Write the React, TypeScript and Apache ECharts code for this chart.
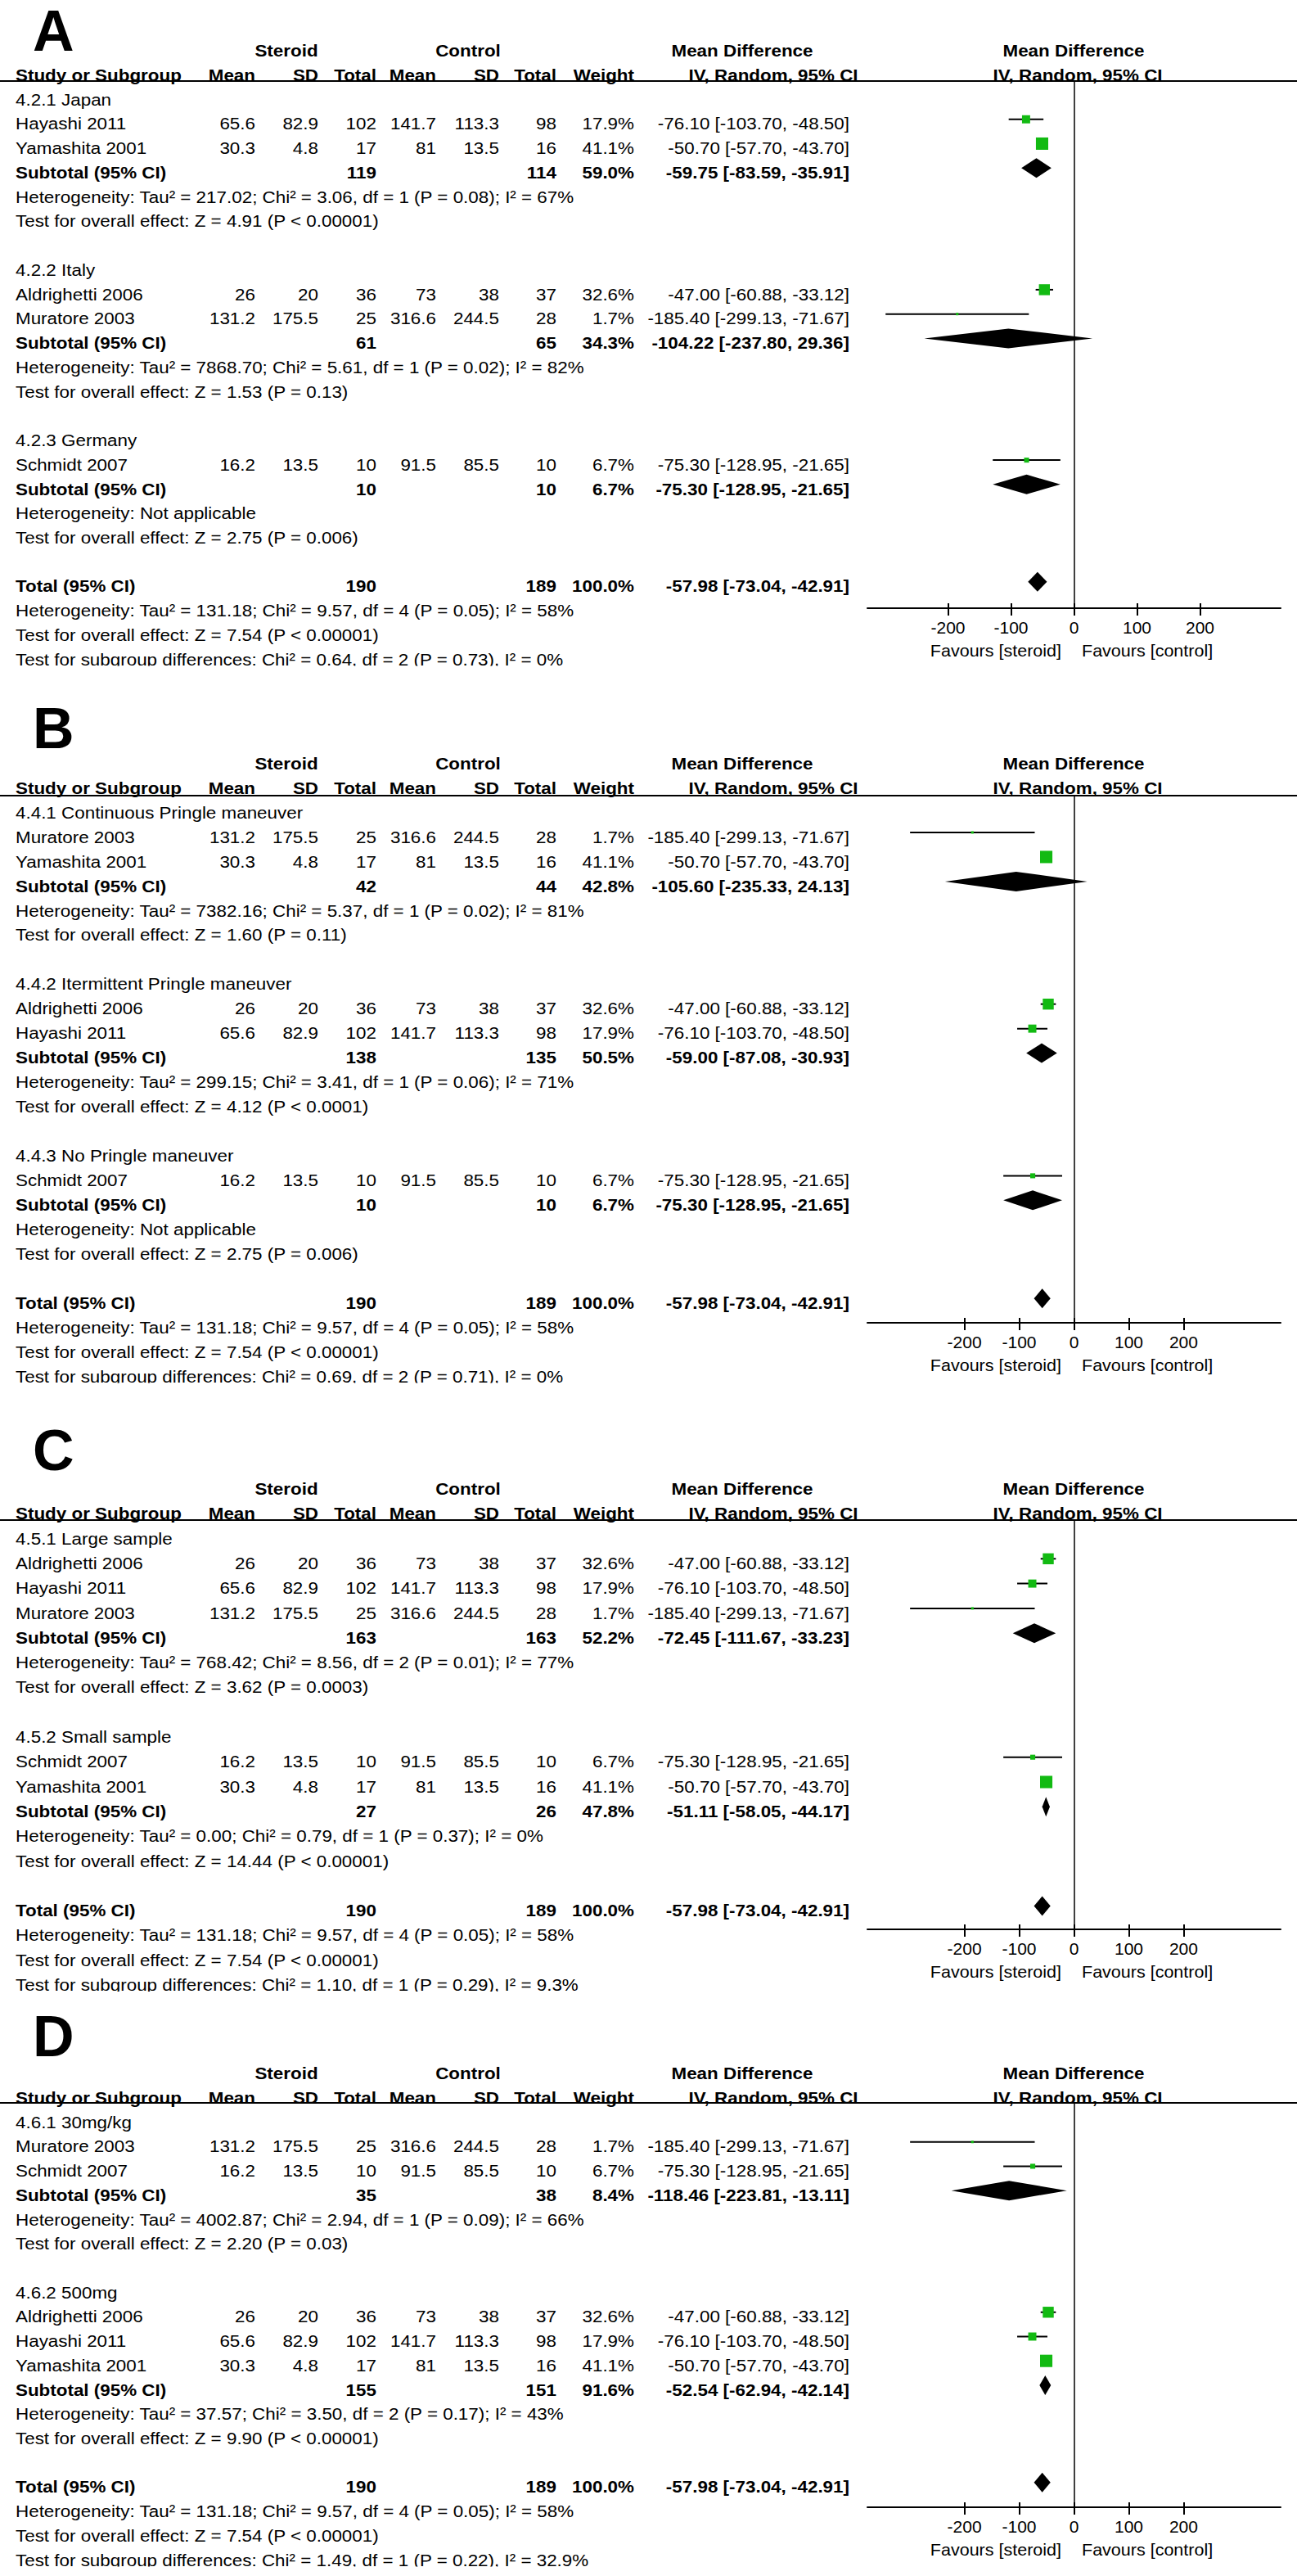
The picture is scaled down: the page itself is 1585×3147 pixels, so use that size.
import React, { useEffect, useRef } from "react";
import * as echarts from "echarts";

const W = 1585;
const H = 3147;
const FONT = '"Liberation Sans", Arial, Helvetica, sans-serif';
const GREEN = "#12ba12";

// ---- study-level data (shared by all four panels) ----
const studyNames = ["Hayashi 2011", "Yamashita 2001", "Aldrighetti 2006", "Muratore 2003", "Schmidt 2007"];
const steroidMean = [65.6, 30.3, 26, 131.2, 16.2];
const steroidSD = [82.9, 4.8, 20, 175.5, 13.5];
const steroidTotal = [102, 17, 36, 25, 10];
const controlMean = [141.7, 81, 73, 316.6, 91.5];
const controlSD = [113.3, 13.5, 38, 244.5, 85.5];
const controlTotal = [98, 16, 37, 28, 10];
const studyWeight = [17.9, 41.1, 32.6, 1.7, 6.7];
const studyMD = [-76.1, -50.7, -47.0, -185.4, -75.3];
const studyLow = [-103.7, -57.7, -60.88, -299.13, -128.95];
const studyHigh = [-48.5, -43.7, -33.12, -71.67, -21.65];

// ---- overall ----
const totalSteroid = 190;
const totalControl = 189;
const totalWeight = 100.0;
const totalMD = -57.98;
const totalLow = -73.04;
const totalHigh = -42.91;
const totalHet = "Heterogeneity: Tau² = 131.18; Chi² = 9.57, df = 4 (P = 0.05); I² = 58%";
const totalTest = "Test for overall effect: Z = 7.54 (P < 0.00001)";

// ---- panels / subgroups ----
const panelLetters = ["A", "B", "C", "D"];
const subgroupTitles = [
  ["4.2.1 Japan", "4.2.2 Italy", "4.2.3 Germany"],
  ["4.4.1 Continuous Pringle maneuver", "4.4.2 Itermittent Pringle maneuver", "4.4.3 No Pringle maneuver"],
  ["4.5.1 Large sample", "4.5.2 Small sample"],
  ["4.6.1 30mg/kg", "4.6.2 500mg"],
];
const subgroupStudies = [
  [[0, 1], [2, 3], [4]],
  [[3, 1], [2, 0], [4]],
  [[2, 0, 3], [4, 1]],
  [[3, 4], [2, 0, 1]],
];
const subSteroidTotal = [[119, 61, 10], [42, 138, 10], [163, 27], [35, 155]];
const subControlTotal = [[114, 65, 10], [44, 135, 10], [163, 26], [38, 151]];
const subWeight = [[59.0, 34.3, 6.7], [42.8, 50.5, 6.7], [52.2, 47.8], [8.4, 91.6]];
const subMD = [[-59.75, -104.22, -75.3], [-105.6, -59.0, -75.3], [-72.45, -51.11], [-118.46, -52.54]];
const subLow = [[-83.59, -237.8, -128.95], [-235.33, -87.08, -128.95], [-111.67, -58.05], [-223.81, -62.94]];
const subHigh = [[-35.91, 29.36, -21.65], [24.13, -30.93, -21.65], [-33.23, -44.17], [-13.11, -42.14]];
const subHet = [
  [
    "Heterogeneity: Tau² = 217.02; Chi² = 3.06, df = 1 (P = 0.08); I² = 67%",
    "Heterogeneity: Tau² = 7868.70; Chi² = 5.61, df = 1 (P = 0.02); I² = 82%",
    "Heterogeneity: Not applicable",
  ],
  [
    "Heterogeneity: Tau² = 7382.16; Chi² = 5.37, df = 1 (P = 0.02); I² = 81%",
    "Heterogeneity: Tau² = 299.15; Chi² = 3.41, df = 1 (P = 0.06); I² = 71%",
    "Heterogeneity: Not applicable",
  ],
  [
    "Heterogeneity: Tau² = 768.42; Chi² = 8.56, df = 2 (P = 0.01); I² = 77%",
    "Heterogeneity: Tau² = 0.00; Chi² = 0.79, df = 1 (P = 0.37); I² = 0%",
  ],
  [
    "Heterogeneity: Tau² = 4002.87; Chi² = 2.94, df = 1 (P = 0.09); I² = 66%",
    "Heterogeneity: Tau² = 37.57; Chi² = 3.50, df = 2 (P = 0.17); I² = 43%",
  ],
];
const subTest = [
  [
    "Test for overall effect: Z = 4.91 (P < 0.00001)",
    "Test for overall effect: Z = 1.53 (P = 0.13)",
    "Test for overall effect: Z = 2.75 (P = 0.006)",
  ],
  [
    "Test for overall effect: Z = 1.60 (P = 0.11)",
    "Test for overall effect: Z = 4.12 (P < 0.0001)",
    "Test for overall effect: Z = 2.75 (P = 0.006)",
  ],
  ["Test for overall effect: Z = 3.62 (P = 0.0003)", "Test for overall effect: Z = 14.44 (P < 0.00001)"],
  ["Test for overall effect: Z = 2.20 (P = 0.03)", "Test for overall effect: Z = 9.90 (P < 0.00001)"],
];
const subgroupDiff = [
  "Test for subgroup differences: Chi² = 0.64, df = 2 (P = 0.73), I² = 0%",
  "Test for subgroup differences: Chi² = 0.69, df = 2 (P = 0.71), I² = 0%",
  "Test for subgroup differences: Chi² = 1.10, df = 1 (P = 0.29), I² = 9.3%",
  "Test for subgroup differences: Chi² = 1.49, df = 1 (P = 0.22), I² = 32.9%",
];
const axisTicks = [-200, -100, 0, 100, 200];
const axisExtent = [328, 377, 377, 377];

// ---- layout (pixels) ----
const LAYOUT = [
  { row0: 122, pitch: 29.74, headerLine: 99, axisY: 743, letterBase: 63 },
  { row0: 993, pitch: 29.96, headerLine: 972, axisY: 1616, letterBase: 915 },
  { row0: 1880, pitch: 30.3, headerLine: 1857, axisY: 2357, letterBase: 1797 },
  { row0: 2593, pitch: 29.72, headerLine: 2569, axisY: 3063, letterBase: 2513 },
];
const PLOT_LEFT = 1060;
const PLOT_RIGHT = 20;
const ZERO_X = 1311;
const MARK_DY = 6;
const FS = 20.5;
const SX = 1.093;
const SQUARE_K = 2.35;
const DIAMOND_H = 12;
const COL = {
  study: 19, sMean: 312, sSD: 389, sTotal: 460, cMean: 533, cSD: 610, cTotal: 680,
  weight: 775, ci: 1038, steroidHdr: 350, controlHdr: 572, mdHdr: 907, ivHdr: 945,
  plotMdHdr: 1312, plotIvHdr: 1317,
};

type Cell = { t: string; x: number; a: string; b: boolean };
const cell = (t: string, x: number, a: string, b = false): Cell => ({ t, x, a, b });
const pct = (v: number) => v.toFixed(1) + "%";
const ciText = (m: number, l: number, h: number) => `${m.toFixed(2)} [${l.toFixed(2)}, ${h.toFixed(2)}]`;

function buildPanel(p: number) {
  const rows: { r: number; cells: Cell[] }[] = [];
  const marks: number[][] = [];
  rows.push({
    r: -2,
    cells: [
      cell("Steroid", COL.steroidHdr, "center", true),
      cell("Control", COL.controlHdr, "center", true),
      cell("Mean Difference", COL.mdHdr, "center", true),
      cell("Mean Difference", COL.plotMdHdr, "center", true),
    ],
  });
  rows.push({
    r: -1,
    cells: [
      cell("Study or Subgroup", COL.study, "left", true),
      cell("Mean", COL.sMean, "right", true),
      cell("SD", COL.sSD, "right", true),
      cell("Total", COL.sTotal, "right", true),
      cell("Mean", COL.cMean, "right", true),
      cell("SD", COL.cSD, "right", true),
      cell("Total", COL.cTotal, "right", true),
      cell("Weight", COL.weight, "right", true),
      cell("IV, Random, 95% CI", COL.ivHdr, "center", true),
      cell("IV, Random, 95% CI", COL.plotIvHdr, "center", true),
    ],
  });
  let r = 0;
  subgroupTitles[p].forEach((title, g) => {
    rows.push({ r, cells: [cell(title, COL.study, "left")] });
    r++;
    subgroupStudies[p][g].forEach((s) => {
      rows.push({
        r,
        cells: [
          cell(studyNames[s], COL.study, "left"),
          cell(String(steroidMean[s]), COL.sMean, "right"),
          cell(String(steroidSD[s]), COL.sSD, "right"),
          cell(String(steroidTotal[s]), COL.sTotal, "right"),
          cell(String(controlMean[s]), COL.cMean, "right"),
          cell(String(controlSD[s]), COL.cSD, "right"),
          cell(String(controlTotal[s]), COL.cTotal, "right"),
          cell(pct(studyWeight[s]), COL.weight, "right"),
          cell(ciText(studyMD[s], studyLow[s], studyHigh[s]), COL.ci, "right"),
        ],
      });
      marks.push([studyMD[s], r, studyLow[s], studyHigh[s], studyWeight[s], 0]);
      r++;
    });
    rows.push({
      r,
      cells: [
        cell("Subtotal (95% CI)", COL.study, "left", true),
        cell(String(subSteroidTotal[p][g]), COL.sTotal, "right", true),
        cell(String(subControlTotal[p][g]), COL.cTotal, "right", true),
        cell(pct(subWeight[p][g]), COL.weight, "right", true),
        cell(ciText(subMD[p][g], subLow[p][g], subHigh[p][g]), COL.ci, "right", true),
      ],
    });
    marks.push([subMD[p][g], r, subLow[p][g], subHigh[p][g], subWeight[p][g], 1]);
    r++;
    rows.push({ r, cells: [cell(subHet[p][g], COL.study, "left")] });
    r++;
    rows.push({ r, cells: [cell(subTest[p][g], COL.study, "left")] });
    r++;
    r++;
  });
  rows.push({
    r,
    cells: [
      cell("Total (95% CI)", COL.study, "left", true),
      cell(String(totalSteroid), COL.sTotal, "right", true),
      cell(String(totalControl), COL.cTotal, "right", true),
      cell(pct(totalWeight), COL.weight, "right", true),
      cell(ciText(totalMD, totalLow, totalHigh), COL.ci, "right", true),
    ],
  });
  marks.push([totalMD, r, totalLow, totalHigh, totalWeight, 1]);
  r++;
  rows.push({ r, cells: [cell(totalHet, COL.study, "left")] });
  r++;
  rows.push({ r, cells: [cell(totalTest, COL.study, "left")] });
  r++;
  rows.push({ r, cells: [cell(subgroupDiff[p], COL.study, "left")] });
  return { rows, marks, lastRow: r };
}

function buildOption() {
  const grid: any[] = [];
  const xAxis: any[] = [];
  const yAxis: any[] = [];
  const series: any[] = [];
  const elements: any[] = [];

  panelLetters.forEach((letter, p) => {
    const L = LAYOUT[p];
    const R = axisExtent[p];
    const markY0 = L.row0 - MARK_DY;
    const { rows, marks, lastRow } = buildPanel(p);

    grid.push({ left: PLOT_LEFT, right: PLOT_RIGHT, top: L.headerLine, height: L.axisY - L.headerLine });
    xAxis.push({
      type: "value", gridIndex: p, min: -R, max: R, position: "bottom",
      axisLine: { show: true, onZero: false, lineStyle: { color: "#000", width: 2 } },
      axisTick: { show: true, inside: false, length: 9, customValues: axisTicks, lineStyle: { color: "#000", width: 2 } },
      axisLabel: { show: true, customValues: axisTicks, color: "#000", fontSize: 21, fontFamily: FONT, margin: 13 },
      splitLine: { show: false },
    });
    xAxis.push({
      type: "value", gridIndex: p, min: -R, max: R, position: "bottom",
      axisLine: { show: false, onZero: false },
      axisTick: { show: true, inside: true, length: 6, customValues: axisTicks, lineStyle: { color: "#000", width: 2 } },
      axisLabel: { show: false },
      splitLine: { show: false },
    });
    yAxis.push({
      type: "value", gridIndex: p, inverse: true, show: false,
      min: (L.headerLine - markY0) / L.pitch,
      max: (L.axisY - markY0) / L.pitch,
      splitLine: { show: false },
    });

    // table text
    series.push({
      type: "custom", xAxisIndex: 2 * p, yAxisIndex: p, clip: false, silent: true, z: 5,
      encode: { x: 0, y: 1 },
      data: rows.map((row, i) => [0, row.r, i]),
      renderItem: (params: any, api: any) => {
        const row = rows[api.value(2)];
        const y = api.coord([0, api.value(1)])[1] + MARK_DY;
        return {
          type: "group",
          children: row.cells.map((c) => ({
            type: "text", x: c.x, y, scaleX: SX,
            style: {
              text: c.t, fill: "#000", fontSize: FS, fontFamily: FONT,
              fontWeight: c.b ? "bold" : "normal",
              textAlign: c.a, textVerticalAlign: "middle", align: c.a, verticalAlign: "middle",
            },
          })),
        };
      },
    });

    // forest marks
    series.push({
      type: "custom", xAxisIndex: 2 * p, yAxisIndex: p, clip: false, silent: true, z: 4,
      encode: { x: [0, 2, 3], y: 1 },
      data: marks,
      renderItem: (params: any, api: any) => {
        const md = api.value(0), row = api.value(1), lo = api.value(2), hi = api.value(3);
        const w = api.value(4), kind = api.value(5);
        const c = api.coord([md, row]);
        const l = api.coord([lo, row]);
        const h = api.coord([hi, row]);
        if (kind === 0) {
          const s = SQUARE_K * Math.sqrt(w);
          return {
            type: "group",
            children: [
              { type: "line", shape: { x1: l[0], y1: c[1], x2: h[0], y2: c[1] }, style: { stroke: "#000", lineWidth: 2 } },
              { type: "rect", shape: { x: c[0] - s / 2, y: c[1] - s / 2, width: s, height: s }, style: { fill: GREEN } },
            ],
          };
        }
        return {
          type: "polygon",
          shape: { points: [[l[0], c[1]], [c[0], c[1] - DIAMOND_H], [h[0], c[1]], [c[0], c[1] + DIAMOND_H]] },
          style: { fill: "#000" },
        };
      },
      markLine: {
        silent: true, symbol: "none", label: { show: false },
        lineStyle: { color: "#000", width: 1.5, type: "solid" },
        data: [{ xAxis: 0 }],
      },
    });

    // decorations
    elements.push({
      type: "text", x: 40, y: L.letterBase - 25,
      style: {
        text: letter, fill: "#000", fontSize: 70, fontWeight: "bold", fontFamily: FONT,
        textVerticalAlign: "middle", verticalAlign: "middle",
      },
    });
    elements.push({
      type: "line", shape: { x1: 0, y1: L.headerLine, x2: W, y2: L.headerLine },
      style: { stroke: "#000", lineWidth: 2 },
    });
    elements.push({
      type: "text", x: ZERO_X - 14, y: L.axisY + 52, scaleX: 1.05,
      style: { text: "Favours [steroid]", fill: "#000", fontSize: FS, fontFamily: FONT, textAlign: "right", align: "right", textVerticalAlign: "middle", verticalAlign: "middle" },
    });
    elements.push({
      type: "text", x: ZERO_X + 11, y: L.axisY + 52, scaleX: 1.05,
      style: { text: "Favours [control]", fill: "#000", fontSize: FS, fontFamily: FONT, textAlign: "left", align: "left", textVerticalAlign: "middle", verticalAlign: "middle" },
    });
    // the last text line of each panel is cut at its baseline in the source figure
    const lastY = L.row0 + lastRow * L.pitch;
    elements.push({
      type: "rect", z: 100, shape: { x: 0, y: lastY + 7.5, width: 1000, height: 12 },
      style: { fill: "#fff" },
    });
  });

  return {
    animation: false,
    backgroundColor: "#fff",
    tooltip: { show: false },
    grid,
    xAxis,
    yAxis,
    series,
    graphic: { elements },
  };
}

export default function App() {
  const ref = useRef<HTMLDivElement>(null);
  useEffect(() => {
    if (!ref.current) return;
    const chart = echarts.init(ref.current, undefined, { renderer: "svg", width: W, height: H });
    chart.setOption(buildOption() as any);
    return () => chart.dispose();
  }, []);
  return <div ref={ref} style={{ position: "absolute", left: 0, top: 0, width: W, height: H }} />;
}
